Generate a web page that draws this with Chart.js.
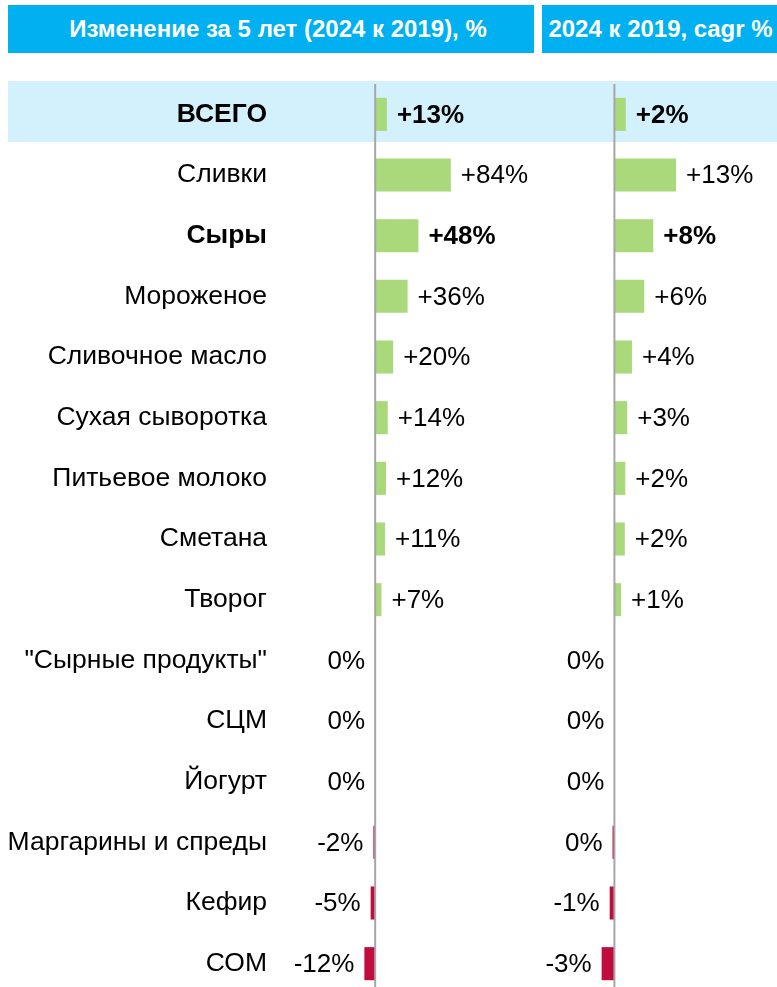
<!DOCTYPE html>
<html>
<head>
<meta charset="utf-8">
<script src="https://cdn.jsdelivr.net/npm/chart.js@4"></script>
<style>
  body { margin: 0; width: 777px; height: 987px; overflow: hidden; position: relative; background: #fff;
         font-family: "Liberation Sans", Arial, sans-serif; }
  .head { position: absolute; top: 5px; height: 48px; background: #00B0F0; color: #fff; font-weight: bold;
          font-size: 24px; display: flex; align-items: center; justify-content: center; white-space: nowrap;
          box-sizing: border-box; }
  #h1 { left: 8px; width: 526px; padding-left: 14px; }
  #h2 { left: 542px; width: 235px; padding-left: 2px; }
  #band { position: absolute; left: 8px; top: 81px; width: 769px; height: 61px; background: #D3F1FC; }
  #c1 { position: absolute; left: 0; top: 84px; }
  #c2 { position: absolute; left: 540px; top: 84px; }
</style>
</head>
<body>
<div class="head" id="h1">Изменение за 5 лет (2024 к 2019), %</div>
<div class="head" id="h2">2024 к 2019, cagr %</div>
<div id="band"></div>
<canvas id="c1" width="540" height="910"></canvas>
<canvas id="c2" width="237" height="910"></canvas>
<script>
const categories = ["ВСЕГО", "Сливки", "Сыры", "Мороженое", "Сливочное масло", "Сухая сыворотка",
  "Питьевое молоко", "Сметана", "Творог", "\"Сырные продукты\"", "СЦМ", "Йогурт",
  "Маргарины и спреды", "Кефир", "СОМ"];
const change5y = [13, 84, 48, 36, 20, 14, 12, 11, 7, 0, 0, 0, -2, -5, -12];
const cagr = [2.4, 13, 8.2, 6.3, 3.7, 2.7, 2.3, 2.2, 1.4, 0, 0, 0, -0.4, -1, -2.7];
const boldRows = ["ВСЕГО", "Сыры"];

const FONT = '"Liberation Sans", Arial, sans-serif';
const GREEN = '#A9D97A';
const RED = '#C00D3D';

function fmt(v) {
  const r = Math.round(v);
  if (r === 0) return '0%';
  return (r > 0 ? '+' : '') + r + '%';
}

// zero line + value labels next to each bar
const valueLabels = {
  id: 'valueLabels',
  afterDatasetsDraw(chart) {
    const { ctx, chartArea, scales } = chart;
    const x0 = scales.x.getPixelForValue(0);
    ctx.save();
    ctx.strokeStyle = '#A6A6A6';
    ctx.lineWidth = 2;
    ctx.beginPath();
    ctx.moveTo(x0, chartArea.top);
    ctx.lineTo(x0, chartArea.bottom);
    ctx.stroke();
    const vals = chart.data.datasets[0].data;
    chart.getDatasetMeta(0).data.forEach((bar, i) => {
      const v = vals[i];
      const bold = boldRows.includes(categories[i]);
      ctx.font = (bold ? 'bold ' : '') + '26px ' + FONT;
      ctx.fillStyle = '#000';
      ctx.textBaseline = 'middle';
      if (v > 0) {
        ctx.textAlign = 'left';
        ctx.fillText(fmt(v), bar.x + 10, bar.y + 1);
      } else {
        ctx.textAlign = 'right';
        ctx.fillText(fmt(v), bar.x - 10, bar.y + 1);
      }
    });
    ctx.restore();
  }
};

function makeChart(id, values, xMin, xMax, showCats) {
  return new Chart(document.getElementById(id), {
    type: 'bar',
    data: {
      labels: categories,
      datasets: [{
        data: values,
        backgroundColor: c => c.raw < 0 ? RED : GREEN,
        borderWidth: 0,
        categoryPercentage: 1,
        barPercentage: 0.545
      }]
    },
    options: {
      indexAxis: 'y',
      responsive: false,
      animation: false,
      layout: { padding: 0 },
      plugins: { legend: { display: false }, tooltip: { enabled: false } },
      scales: {
        x: {
          min: xMin,
          max: xMax,
          grid: { display: false },
          border: { display: false },
          ticks: { display: false },
          afterFit: s => { s.height = 0; }
        },
        y: {
          display: showCats,
          grid: { display: false, drawTicks: false },
          border: { display: false },
          ticks: {
            color: '#000',
            padding: 10,
            font: c => ({
              family: FONT,
              size: 26.5,
              weight: boldRows.includes(categories[c.index]) ? 'bold' : 'normal'
            })
          },
          afterFit: s => {
            if (showCats) s.width = 277;
            s.paddingTop = 0;
            s.paddingBottom = 0;
          }
        }
      }
    },
    plugins: [valueLabels]
  });
}

makeChart('c1', change5y, -109, 183, true);
makeChart('c2', cagr, -15.7, 34.3, false);
</script>
</body>
</html>
